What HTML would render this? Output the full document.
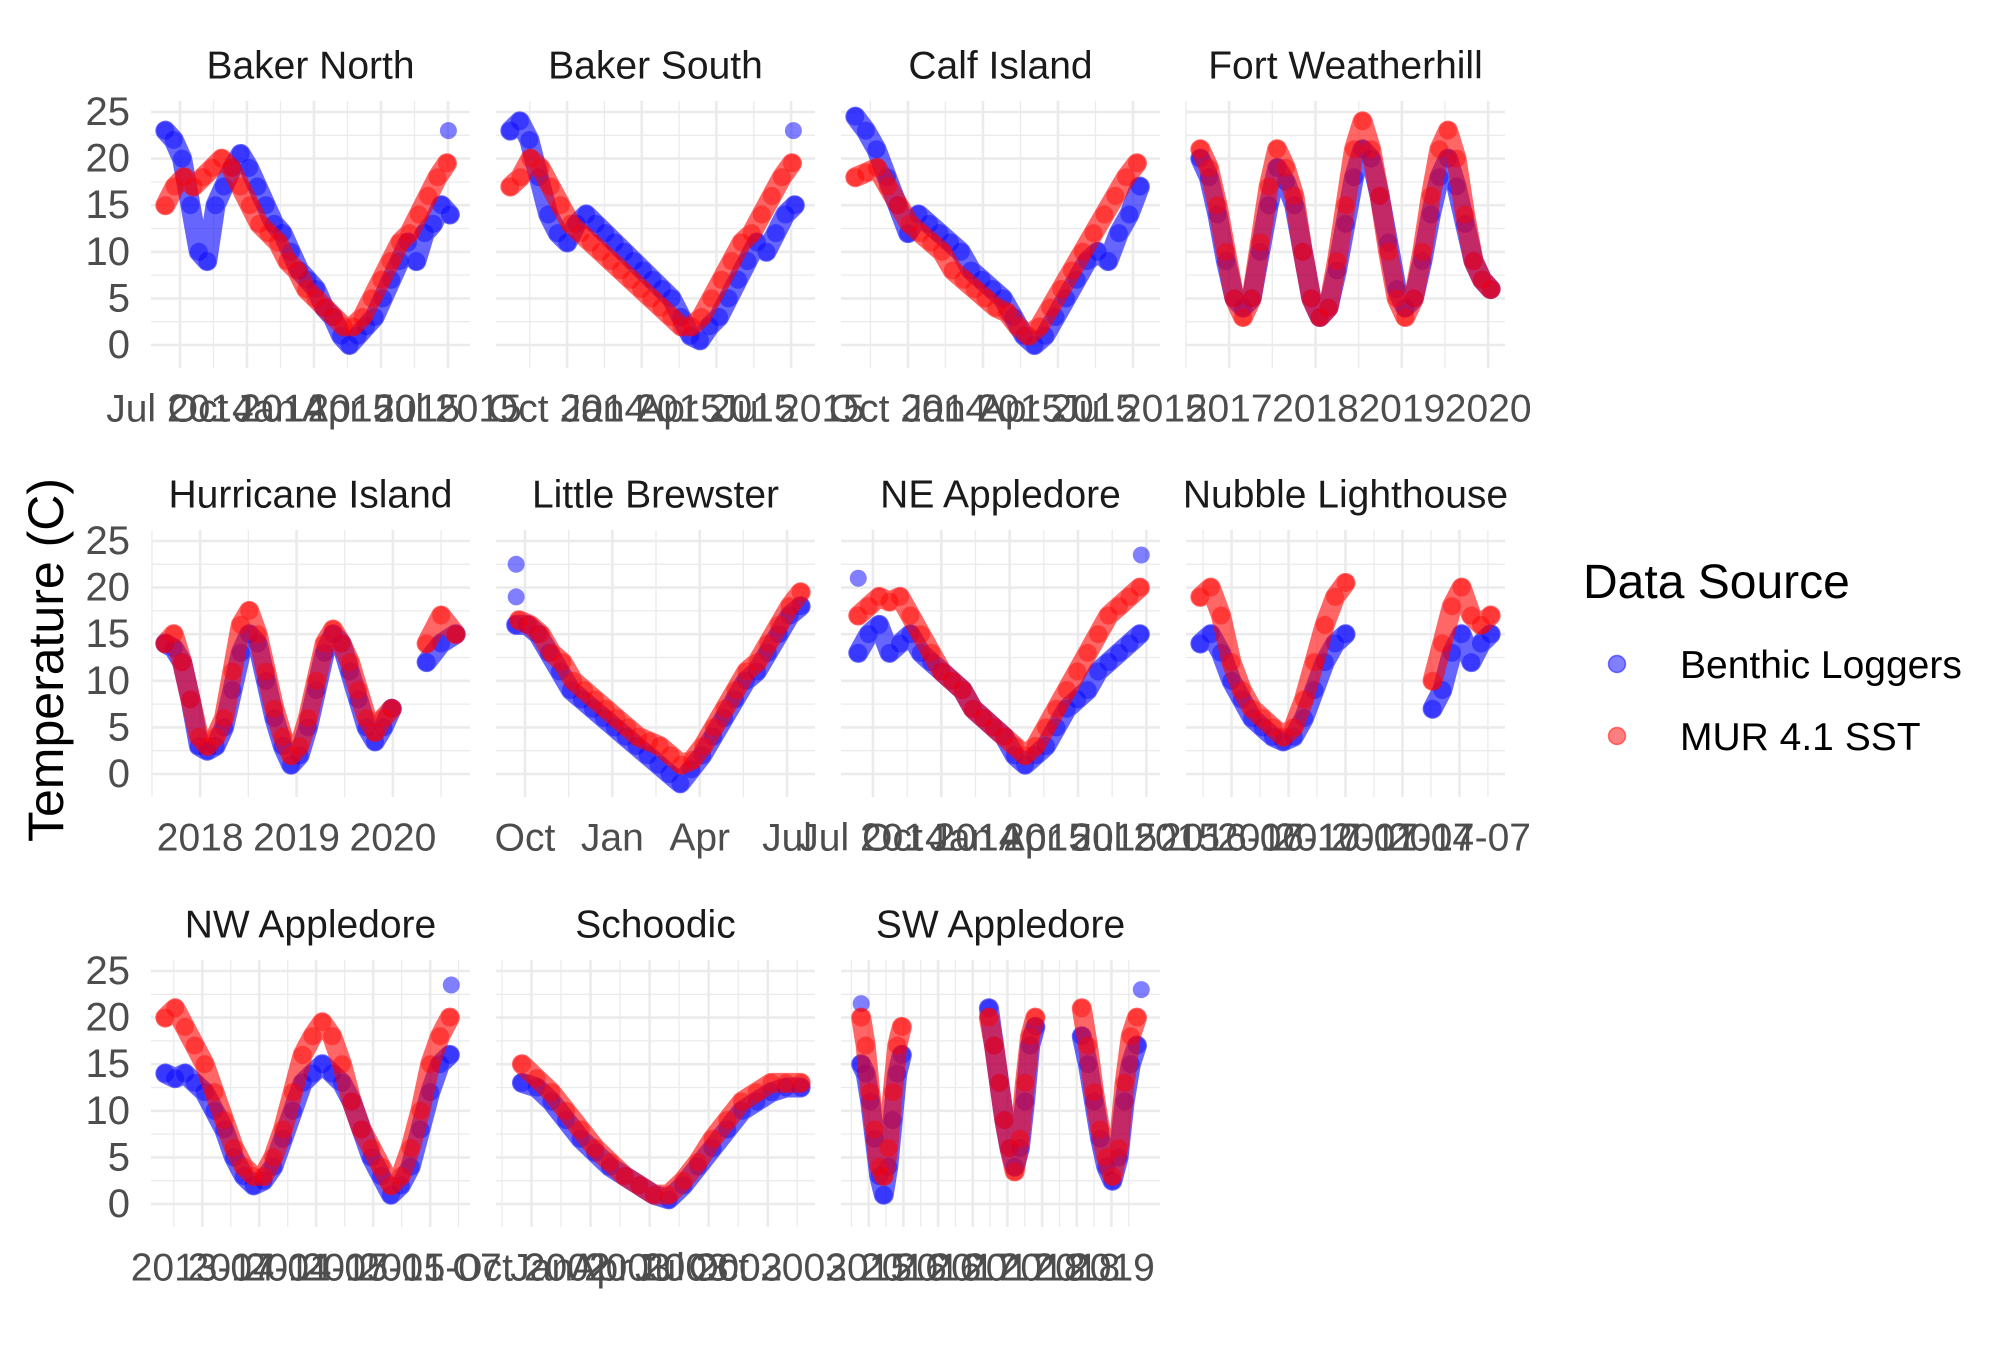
<!DOCTYPE html>
<html><head><meta charset="utf-8">
<style>
html,body{margin:0;padding:0;background:#fff;}
svg{display:block;font-family:"Liberation Sans",sans-serif;}
</style></head>
<body>
<svg id="chart" width="2016" height="1370" viewBox="0 0 2016 1370" xmlns="http://www.w3.org/2000/svg">
<rect x="0" y="0" width="2016" height="1370" fill="#fff"/>
<g id="panels"></g>
<text x="46" y="660" transform="rotate(-90 46 660)" text-anchor="middle" dominant-baseline="central" font-size="50" fill="#000">Temperature (C)</text>
<g>
<text x="1583" y="598" font-size="48" fill="#000">Data Source</text>
<circle cx="1617" cy="664" r="8.5" fill="rgba(0,0,255,0.5)" stroke="rgba(0,0,255,0.5)" stroke-width="1.5"/>
<text x="1680" y="678" font-size="39" fill="#000">Benthic Loggers</text>
<circle cx="1617" cy="736" r="8.5" fill="rgba(255,0,0,0.5)" stroke="rgba(255,0,0,0.5)" stroke-width="1.5"/>
<text x="1680" y="750" font-size="39" fill="#000">MUR 4.1 SST</text>
</g>
</svg>
<script>
// ---- data ----
const panelNames = ["Baker North","Baker South","Calf Island","Fort Weatherhill","Hurricane Island","Little Brewster","NE Appledore","Nubble Lighthouse","NW Appledore","Schoodic","SW Appledore"];
const xDomains = [[2014.392,2015.582],[2014.512,2015.58],[2014.527,2015.59],[2016.50,2020.195],[2017.49,2020.80],[2015.667,2016.58],[2014.383,2015.55],[2016.30,2017.70],[2013.05,2015.85],[2002.60,2003.95],[2015.10,2019.70]];
const xTickVals = [
 [2014.5,2014.75,2015.0,2015.25,2015.5],
 [2014.75,2015.0,2015.25,2015.5],
 [2014.75,2015.0,2015.25,2015.5],
 [2017,2018,2019,2020],
 [2018,2019,2020],
 [2015.75,2016.0,2016.25,2016.5],
 [2014.5,2014.75,2015.0,2015.25,2015.5],
 [2016.5,2016.75,2017.0,2017.25,2017.5],
 [2013.5,2014.0,2014.5,2015.0,2015.5],
 [2002.75,2003.0,2003.25,2003.5,2003.75],
 [2015.5,2016.0,2016.5,2017.0,2017.5,2018.0,2018.5,2019.0]
];
const xTickLabels = [
 ["Jul 2014","Oct 2014","Jan 2015","Apr 2015","Jul 2015"],
 ["Oct 2014","Jan 2015","Apr 2015","Jul 2015"],
 ["Oct 2014","Jan 2015","Apr 2015","Jul 2015"],
 ["2017","2018","2019","2020"],
 ["2018","2019","2020"],
 ["Oct","Jan","Apr","Jul"],
 ["Jul 2014","Oct 2014","Jan 2015","Apr 2015","Jul 2015"],
 ["2016-07","2016-10","2017-01","2017-04","2017-07"],
 ["2013-07","2014-01","2014-07","2015-01","2015-07"],
 ["Oct 2002","Jan 2003","Apr 2003","Jul 2003","Oct 2003"],
 ["2015","2016","2016","2017","2017","2018","2018","2019"]
];
const yTickVals = [0,5,10,15,20,25];
const yTickLabels = ["0","5","10","15","20","25"];
// series spans as fraction of the data range, values in deg C
const benthicSpans = [[[0,0.98]],[[0,0.98]],[[0,0.98]],[[0,1]],[[0,0.78],[0.9,1]],[[0.02,1]],[[0.01,0.98]],[[0,0.5],[0.8,1]],[[0,0.98]],[[0.04,1]],[[0.02,0.16],[0.46,0.62],[0.78,0.97]]];
const benthicValues = [
 [[23,22,20,15,10,9,15,17,19,20.5,19,17,15,13,12,10,8,7,6,4,3,1,0,1,2,3,5,7,9,11,9,12,13,15,14]],
 [[23,24,22,18,14,12,11,13,14,13,12,11,10,9,8,7,6,5,3,1,0.5,2,3,5,7,9,11,10,12,14,15]],
 [[24.5,23,21,18,15,12,14,13,12,11,10,8,7,6,5,3,1,0,1,3,5,7,9,10,9,12,14,17]],
 [[20,18,14,9,5,4,5,10,15,19,17.5,15,10,5,3,4,8,13,18,21,20,16,11,6,4,5,9,14,18,20,17,13,9,7,6]],
 [[14,13.5,12,8,3,2.5,3,5,9,13,15,14,10,6,3,1,2,5,9,13,15,14,11,8,5,3.5,5,7],[12,14,15]],
 [[16,16,15,13,11,9,8,7,6,5,4,3,2,1,0,-1,0.5,2,4,6,8,10,11,13,15,17,18]],
 [[13,15,16,13,14,15,13,12,11,10,9,7,6,5,4,2,1,2,3,5,7,8,9,11,12,13,14,15]],
 [[14,15,13,10,8,6,5,4,3.5,4,6,9,12,14,15],[7,9,13,15,12,14,15]],
 [[14,13.5,14,13,12,10,8,5,3,2,2.5,4,7,10,13,14,15,14,13,11,8,5,3,1,2,4,8,12,15,16]],
 [[13,12.5,11,9,7,5.5,4,3,2,1,0.5,2,4,6,8,10,11,12,12.5,12.5]],
 [[15,14,11,7,3,1,4,9,14,16],[21,17,13,9,6,4,6,11,17,19],[18,15,11,7,4,2.5,5,11,15,17]]
];
const murSpans = [[[0,0.97]],[[0,0.97]],[[0,0.97]],[[0,1]],[[0,0.78],[0.9,1]],[[0.03,1]],[[0.01,0.98]],[[0,0.5],[0.8,1]],[[0,0.98]],[[0.04,1]],[[0.02,0.16],[0.46,0.62],[0.78,0.97]]];
const murValues = [
 [[15,17,18,17,18,19,20,19,17,15,13,12,11,9,8,6,5,4,3,2,2,3,5,7,9,11,12,14,16,18,19.5]],
 [[17,18,20,19,17,15,13,12,11,10,9,8,7,6,5,4,3,2,2,3,5,7,9,11,12,14,16,18,19.5]],
 [[18,18.5,19,17,15,13,12,11,10,8,7,6,5,4,3.5,2,1,2,4,6,8,10,12,14,16,18,19.5]],
 [[21,19,15,10,5,3,5,11,17,21,19,16,10,5,3,4,9,15,21,24,21,16,10,5,3,5,10,16,21,23,20,14,9,7,6]],
 [[14,15,12,8,4,3,4,6,11,16,17.5,15,11,7,4,2,3,6,10,14,15.5,14,12,9,6,4.5,6,7],[14,17,15]],
 [[16.5,16,15,13,12,10,9,8,7,6,5,4,3.5,3,2,1,1.5,3,5,7,9,11,12,14,16,18,19.5]],
 [[17,18,19,18.5,19,17,15,13,11,10,9,7,6,5,4,3,2,3,5,7,9,11,13,15,17,18,19,20]],
 [[19,20,17,12,9,7,6,5,4,5,8,12,16,19,20.5],[10,14,18,20,17,16,17]],
 [[20,21,19,17,15,12,9,6,4,3,3,5,8,12,16,18,19.5,18,15,11,8,6,4,2,3,6,10,15,18,20]],
 [[15,13.5,12,10,8,6,4.5,3,2,1,1,2.5,4.5,7,9,11,12,13,13,13]],
 [[20,17,12,8,4,3,6,12,17,19],[20,17,13,9,6,3.5,7,13,18,20],[21,17,12,8,5,3,6,13,18,20]]
];
// isolated outlier logger readings
const outlierPanels = [0,1,5,5,6,6,8,10,10];
const outlierFracs = [0.975,0.975,0.02,0.02,0.01,0.985,0.985,0.02,0.985];
const outlierValues = [23,23,22.5,19,21,23.5,23.5,21.5,23];

// ---- layout ----
const NS = "http://www.w3.org/2000/svg";
const colX = [151,496,841,1186], PW = 319;
const rowY25 = [112,541,971];
const root = document.getElementById('panels');
function mk(tag, attrs, parent){ const e=document.createElementNS(NS,tag); for(const k in attrs) e.setAttribute(k,attrs[k]); parent.appendChild(e); return e; }

panelNames.forEach((name, p) => {
  const col = p % 4, row = Math.floor(p / 4);
  const x0 = colX[col], y25 = rowY25[row];
  const yPer = 233/25;
  const yScale = v => y25 + (25 - v) * yPer;
  const [d0, d1] = xDomains[p];
  const xScale = t => x0 + (t - d0) / (d1 - d0) * PW;
  const dataStart = d0 + 0.045*(d1-d0), dataEnd = d1 - 0.045*(d1-d0);
  const fracToYear = f => dataStart + f*(dataEnd-dataStart);
  const top = yScale(26.2), bot = yScale(-2.47);

  const g = mk('g', {}, root);
  
  

  [2.5,7.5,12.5,17.5,22.5].forEach(v => {
    const l = mk('line', {x1:x0, x2:x0+PW, y1:yScale(v), y2:yScale(v), stroke:'#ebebeb', 'stroke-width':1.3}, g);
    
    
  });
  const tv = xTickVals[p];
  const step = tv.length > 1 ? tv[1]-tv[0] : 1;
  for (let t = tv[0] - step/2; t <= d1; t += step) {
    if (t < d0) continue;
    const l = mk('line', {x1:xScale(t), x2:xScale(t), y1:top, y2:bot, stroke:'#ebebeb', 'stroke-width':1.3}, g);
    
    
  }
  yTickVals.forEach((v,i) => {
    const l = mk('line', {x1:x0, x2:x0+PW, y1:yScale(v), y2:yScale(v), stroke:'#ebebeb', 'stroke-width':2.6}, g);
    
    
    if (col === 0) {
      const tx = mk('text', {x:130, y:yScale(v), 'text-anchor':'end', 'dominant-baseline':'central', 'font-size':40, fill:'#4d4d4d'}, g);
      tx.textContent = yTickLabels[i];
      
      
    }
  });
  tv.forEach((t,i) => {
    const l = mk('line', {x1:xScale(t), x2:xScale(t), y1:top, y2:bot, stroke:'#ebebeb', 'stroke-width':2.6}, g);
    
    
    const tx = mk('text', {x:xScale(t), y:bot+41, 'text-anchor':'middle', 'dominant-baseline':'central', 'font-size':39, fill:'#4d4d4d'}, g);
    tx.textContent = xTickLabels[p][i];
    
    
  });
  const st = mk('text', {x:x0+PW/2, y:y25-46, 'text-anchor':'middle', 'dominant-baseline':'central', 'font-size':39, fill:'#1a1a1a'}, g);
  st.textContent = name;
  
  

  const clipId = 'clip' + p;
  const cp = mk('clipPath', {id:clipId}, g);
  mk('rect', {x:x0, y:top-30, width:PW+12, height:bot-top+60}, cp);

  function drawSeries(spans, vals, color, label) {
    const sg = mk('g', {'clip-path':'url(#'+clipId+')'}, g);
    
    
    spans.forEach((sp, si) => {
      const arr = vals[si];
      const n = arr.length;
      const pts = arr.map((v,k) => {
        const f = n > 1 ? sp[0] + (sp[1]-sp[0])*k/(n-1) : sp[0];
        return [xScale(fracToYear(f)), yScale(v)];
      });
      const path = mk('polyline', {points: pts.map(q=>q.join(',')).join(' '), fill:'none', stroke:color, 'stroke-opacity':0.6, 'stroke-width':20, 'stroke-linejoin':'round', 'stroke-linecap':'round'}, sg);
      
      
      pts.forEach(q => {
        const c = mk('circle', {cx:q[0], cy:q[1], r:9, fill:color, 'fill-opacity':0.45}, sg);
        
        
      });
    });
  }
  drawSeries(benthicSpans[p], benthicValues[p], '#0000ff', 'benthic');
  outlierPanels.forEach((op, k) => {
    if (op !== p) return;
    const c = mk('circle', {cx:xScale(fracToYear(outlierFracs[k])), cy:yScale(outlierValues[k]), r:8.5, fill:'#0000ff', 'fill-opacity':0.5}, g);
    
    
  });
  drawSeries(murSpans[p], murValues[p], '#ff0000', 'mur');
});
</script>
</body></html>
